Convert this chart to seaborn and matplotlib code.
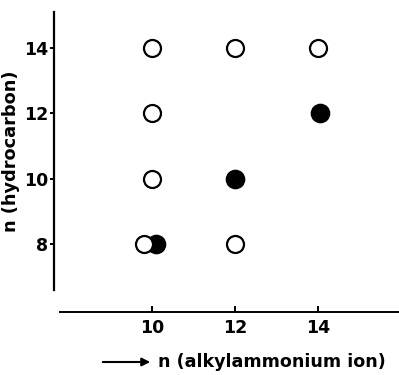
import matplotlib
matplotlib.use('Agg')
import matplotlib.pyplot as plt
import seaborn as sns

# Points
open_x = [10, 12, 14, 10, 10, 9.8, 12]
open_y = [14, 14, 14, 12, 10, 8, 8]
filled_x = [14.05, 12, 10.1]
filled_y = [12, 10, 8]

x_ticks = [10, 12, 14]
y_ticks = [8, 10, 12, 14]

sns.set_style('ticks', {'axes.edgecolor': 'black', 'text.color': 'black',
                        'xtick.color': 'black', 'ytick.color': 'black',
                        'axes.labelcolor': 'black'})
plt.rcParams['font.family'] = ['DejaVu Sans']
plt.rcParams['font.weight'] = 'bold'

fig = plt.figure(figsize=(3.99, 3.75), dpi=100)
ax = fig.add_axes([60 / 399, 85 / 375, 339 / 399, 278 / 375])

# filled first, open circles drawn on top
sns.scatterplot(x=filled_x, y=filled_y, ax=ax, s=160, color='black',
                edgecolor='black', linewidth=1.5, zorder=3)
sns.scatterplot(x=open_x, y=open_y, ax=ax, s=150, color='white',
                edgecolor='black', linewidth=1.6, zorder=4)

ax.set_xlim(7.78, 15.95)
ax.set_ylim(6.6, 15.1)
ax.set_xticks(x_ticks)
ax.set_yticks(y_ticks)

sns.despine(ax=ax)
ax.spines['left'].set_position(('outward', 4.3))
ax.spines['bottom'].set_position(('outward', 15.8))
ax.spines['left'].set_linewidth(1.6)
ax.spines['bottom'].set_linewidth(1.4)

ax.tick_params(axis='x', direction='in', length=4, width=1.4, labelsize=12.5, pad=5)
ax.tick_params(axis='y', direction='out', length=3, width=1.4, labelsize=12.5, pad=1)

ax.set_ylabel('n (hydrocarbon)', fontsize=12.8, fontweight='bold', labelpad=3)
ax.set_xlabel('')

# x label with arrow
fig.text(158 / 399, 1 - 362 / 375, 'n (alkylammonium ion)', fontsize=12.6,
         fontweight='bold', va='center', ha='left')
ax.annotate('', xy=(153 / 399, 1 - 362 / 375), xytext=(100 / 399, 1 - 362 / 375),
            xycoords='figure fraction', textcoords='figure fraction',
            arrowprops=dict(arrowstyle='-|>', color='black', lw=1.5,
                            mutation_scale=12))

fig.savefig('out.png', dpi=100)
